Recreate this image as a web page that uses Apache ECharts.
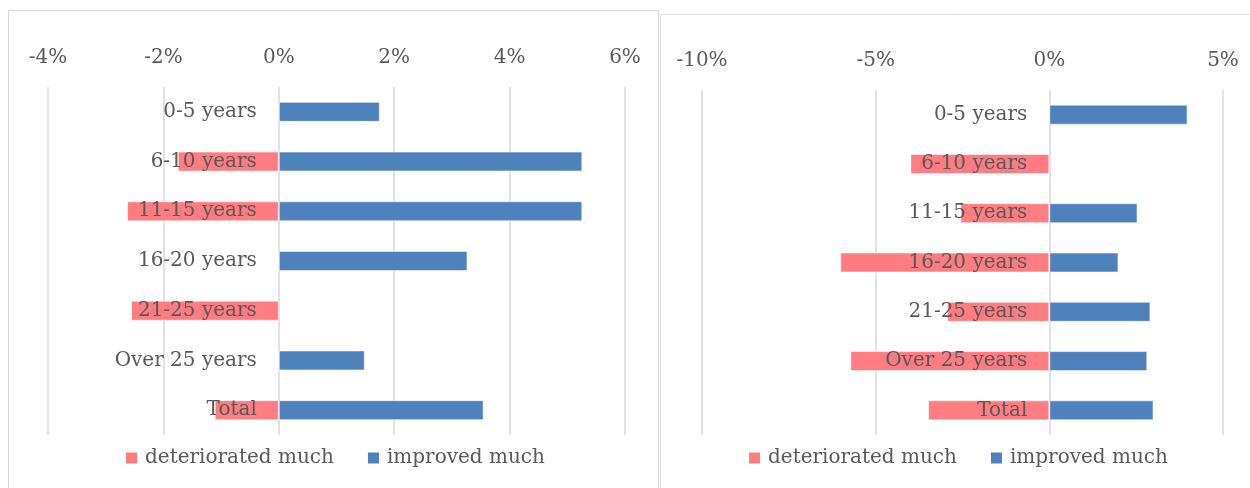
<!DOCTYPE html>
<html>
<head>
<meta charset="utf-8">
<script src="https://cdn.jsdelivr.net/npm/echarts@6/dist/echarts.min.js"></script>
<style>
  html, body { margin: 0; padding: 0; background: #ffffff; }
  #chart { width: 1250px; height: 488px; }
</style>
</head>
<body>
<div id="chart"></div>
<script>
// Age bands (rows, top to bottom)
const categories = ['0-5 years', '6-10 years', '11-15 years', '16-20 years', '21-25 years', 'Over 25 years', 'Total'];

// Left panel: share of respondents, %
const leftDeteriorated = [0, -1.75, -2.63, 0, -2.56, 0, -1.11];
const leftImproved = [1.75, 5.26, 5.26, 3.27, 0, 1.49, 3.55];

// Right panel: share of respondents, %
const rightDeteriorated = [0, -4.0, -2.56, -6.02, -2.94, -5.73, -3.49];
const rightImproved = [3.98, 0, 2.54, 1.99, 2.91, 2.82, 3.0];

// Axis ranges
const leftAxis = { min: -4, max: 6, interval: 2 };
const rightAxis = { min: -10, max: 5, interval: 5 };

const seriesNames = ['deteriorated much', 'improved much'];

const FONT = 'DejaVu Serif';
const TEXT = '#595959';
const GRIDLINE = '#d9d9d9';
const PINK = '#ff7c80';
const BLUE = '#4f81bd';

const grids = [
  { left: 48, width: 577, top: 87, height: 348, containLabel: false, outerBoundsMode: 'none' },
  { left: 702, width: 521, top: 90, height: 345, containLabel: false, outerBoundsMode: 'none' }
];

function valueAxis(idx, range) {
  return {
    type: 'value', gridIndex: idx, position: 'top',
    min: range.min, max: range.max, interval: range.interval,
    axisLine: { show: false }, axisTick: { show: false },
    axisLabel: { formatter: '{value}%', color: TEXT, fontFamily: FONT, fontSize: 20, margin: 19 },
    splitLine: { lineStyle: { color: GRIDLINE, width: 1.5 } }
  };
}

function categoryAxis(idx) {
  return {
    type: 'category', gridIndex: idx, data: categories, inverse: true, z: 10,
    position: 'left', offset: 0,
    axisLine: { show: false }, axisTick: { show: false },
    axisLabel: { color: TEXT, fontFamily: FONT, fontSize: 20, margin: 22 }
  };
}

function bars(name, data, color, idx, stack) {
  return {
    type: 'bar', name: name, data: data, stack: stack,
    xAxisIndex: idx, yAxisIndex: idx, barWidth: 20,
    itemStyle: { color: color, borderColor: 'rgba(255,255,255,0.55)', borderWidth: 1 },
    silent: true
  };
}

function legend(left) {
  return {
    data: seriesNames, left: left, top: 443,
    itemWidth: 11, itemHeight: 11, itemGap: 34,
    icon: 'rect',
    itemStyle: { borderWidth: 0 },
    textStyle: { color: TEXT, fontFamily: FONT, fontSize: 20, padding: [0, 0, 0, 3] },
    selectedMode: false
  };
}

const chart = echarts.init(document.getElementById('chart'), null, { renderer: 'canvas' });

chart.setOption({
  animation: false,
  backgroundColor: '#ffffff',
  color: [PINK, BLUE],
  graphic: [
    { type: 'rect', shape: { x: 8.5, y: 10.5, width: 650, height: 490 },
      style: { fill: 'none', stroke: GRIDLINE, lineWidth: 1 }, silent: true },
    { type: 'rect', shape: { x: 660.5, y: 14.5, width: 600, height: 490 },
      style: { fill: 'none', stroke: GRIDLINE, lineWidth: 1 }, silent: true }
  ],
  legend: [legend(121), legend(744)],
  grid: grids,
  xAxis: [valueAxis(0, leftAxis), valueAxis(1, rightAxis)],
  yAxis: [categoryAxis(0), categoryAxis(1)],
  series: [
    bars(seriesNames[0], leftDeteriorated, PINK, 0, 'left'),
    bars(seriesNames[1], leftImproved, BLUE, 0, 'left'),
    bars(seriesNames[0], rightDeteriorated, PINK, 1, 'right'),
    bars(seriesNames[1], rightImproved, BLUE, 1, 'right')
  ]
});

// Move each category axis onto the 0% line of its value axis
const zeroOffsets = grids.map((g, i) => g.left - chart.convertToPixel({ xAxisIndex: i }, 0));
chart.setOption({
  yAxis: zeroOffsets.map(off => ({ offset: off }))
});
</script>
</body>
</html>
